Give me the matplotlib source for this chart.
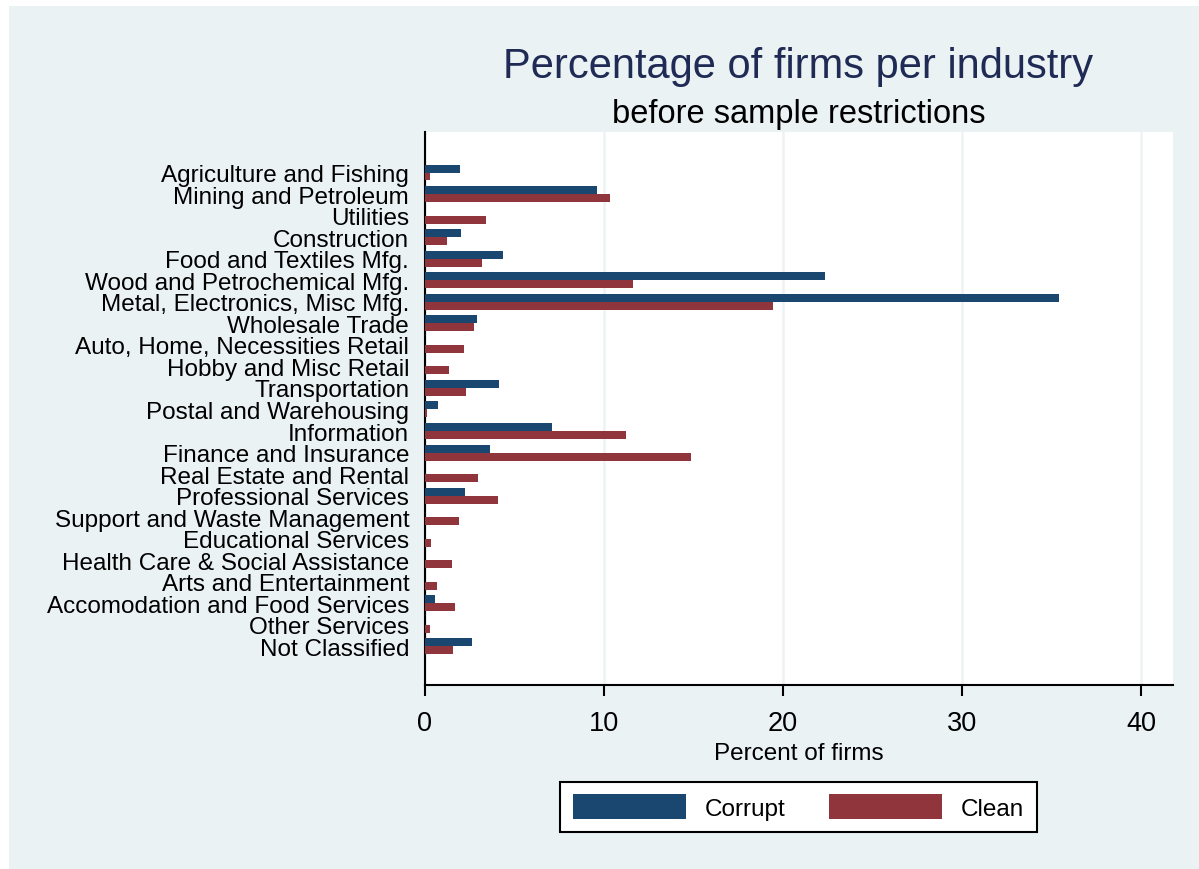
import numpy as np
import matplotlib.pyplot as plt
from matplotlib.patches import Rectangle

industries = [
    'Agriculture and Fishing', 'Mining and Petroleum', 'Utilities', 'Construction',
    'Food and Textiles Mfg.', 'Wood and Petrochemical Mfg.', 'Metal, Electronics, Misc Mfg.',
    'Wholesale Trade', 'Auto, Home, Necessities Retail', 'Hobby and Misc Retail',
    'Transportation', 'Postal and Warehousing', 'Information', 'Finance and Insurance',
    'Real Estate and Rental', 'Professional Services', 'Support and Waste Management',
    'Educational Services', 'Health Care & Social Assistance', 'Arts and Entertainment',
    'Accomodation and Food Services', 'Other Services', 'Not Classified',
]
corrupt = [2.0, 9.63, 0.0, 2.03, 4.38, 22.35, 35.4, 2.92, 0.0, 0.0,
           4.17, 0.76, 7.11, 3.65, 0.0, 2.27, 0.0, 0.0, 0.0, 0.0,
           0.58, 0.0, 2.64]
clean = [0.3, 10.34, 3.43, 1.27, 3.2, 11.66, 19.44, 2.78, 2.22, 1.36,
         2.33, 0.13, 11.23, 14.86, 2.96, 4.12, 1.9, 0.35, 1.53, 0.67,
         1.68, 0.3, 1.6]
xticks = [0, 10, 20, 30, 40]

navy = '#1a476f'
maroon = '#90353b'
bg = '#eaf2f3'

plt.rcParams['font.family'] = ['Liberation Sans', 'DejaVu Sans']

W, H = 1199, 870
fig = plt.figure(figsize=(W / 100, H / 100), dpi=100)
fig.patch.set_facecolor('white')
fig.patches.append(Rectangle((9 / W, 0), 1 - 9 / W, 1 - 7 / H, transform=fig.transFigure,
                             facecolor=bg, edgecolor='none', zorder=-10))

ax = fig.add_axes([424.5 / W, 1 - 686 / H, (1172.5 - 424.5) / W, (686 - 133) / H])
ax.set_facecolor('white')

y = np.arange(len(industries))
h = 0.37
ax.barh(y - h / 2, corrupt, height=h, color=navy, label='Corrupt', zorder=3)
ax.barh(y + h / 2, clean, height=h, color=maroon, label='Clean', zorder=3)

ax.set_ylim(len(industries) - 1 + 1.79, -1.88)
ax.set_xlim(0, 41.74)
ax.set_yticks(y)
ax.set_yticklabels(industries, fontsize=17.5)
ax.tick_params(axis='y', length=0, pad=11)
ax.set_xticks(xticks)
ax.tick_params(axis='x', length=8, width=1.5, pad=10, labelsize=19.5)

ax.grid(axis='x', color='#edf3f4', linewidth=1.8, zorder=0)
ax.set_axisbelow(True)
ax.spines.right.set_visible(False)
ax.spines.top.set_visible(False)
ax.spines['left'].set_linewidth(1.5)
ax.spines['bottom'].set_linewidth(1.5)

ax.set_xlabel('Percent of firms', fontsize=17.5, labelpad=4)

cx = (424.5 + 1172.5) / 2 / W
fig.text(cx, 1 - 67 / H, 'Percentage of firms per industry', fontsize=30,
         color='#1f2a55', ha='center', va='center')
fig.text(cx, 1 - 114 / H, 'before sample restrictions', fontsize=23.5,
         color='black', ha='center', va='center')

leg = ax.legend(loc='center', bbox_to_anchor=(cx, 1 - 808 / H), bbox_transform=fig.transFigure,
                ncol=2, fontsize=17.5, frameon=True, fancybox=False, framealpha=1,
                handlelength=4.65, handleheight=1.23, handletextpad=0.78,
                columnspacing=1.8, borderpad=0.5)
leg.get_frame().set_edgecolor('black')
leg.get_frame().set_linewidth(1.5)
leg.get_frame().set_facecolor('white')

plt.savefig('out.png', dpi=100)
